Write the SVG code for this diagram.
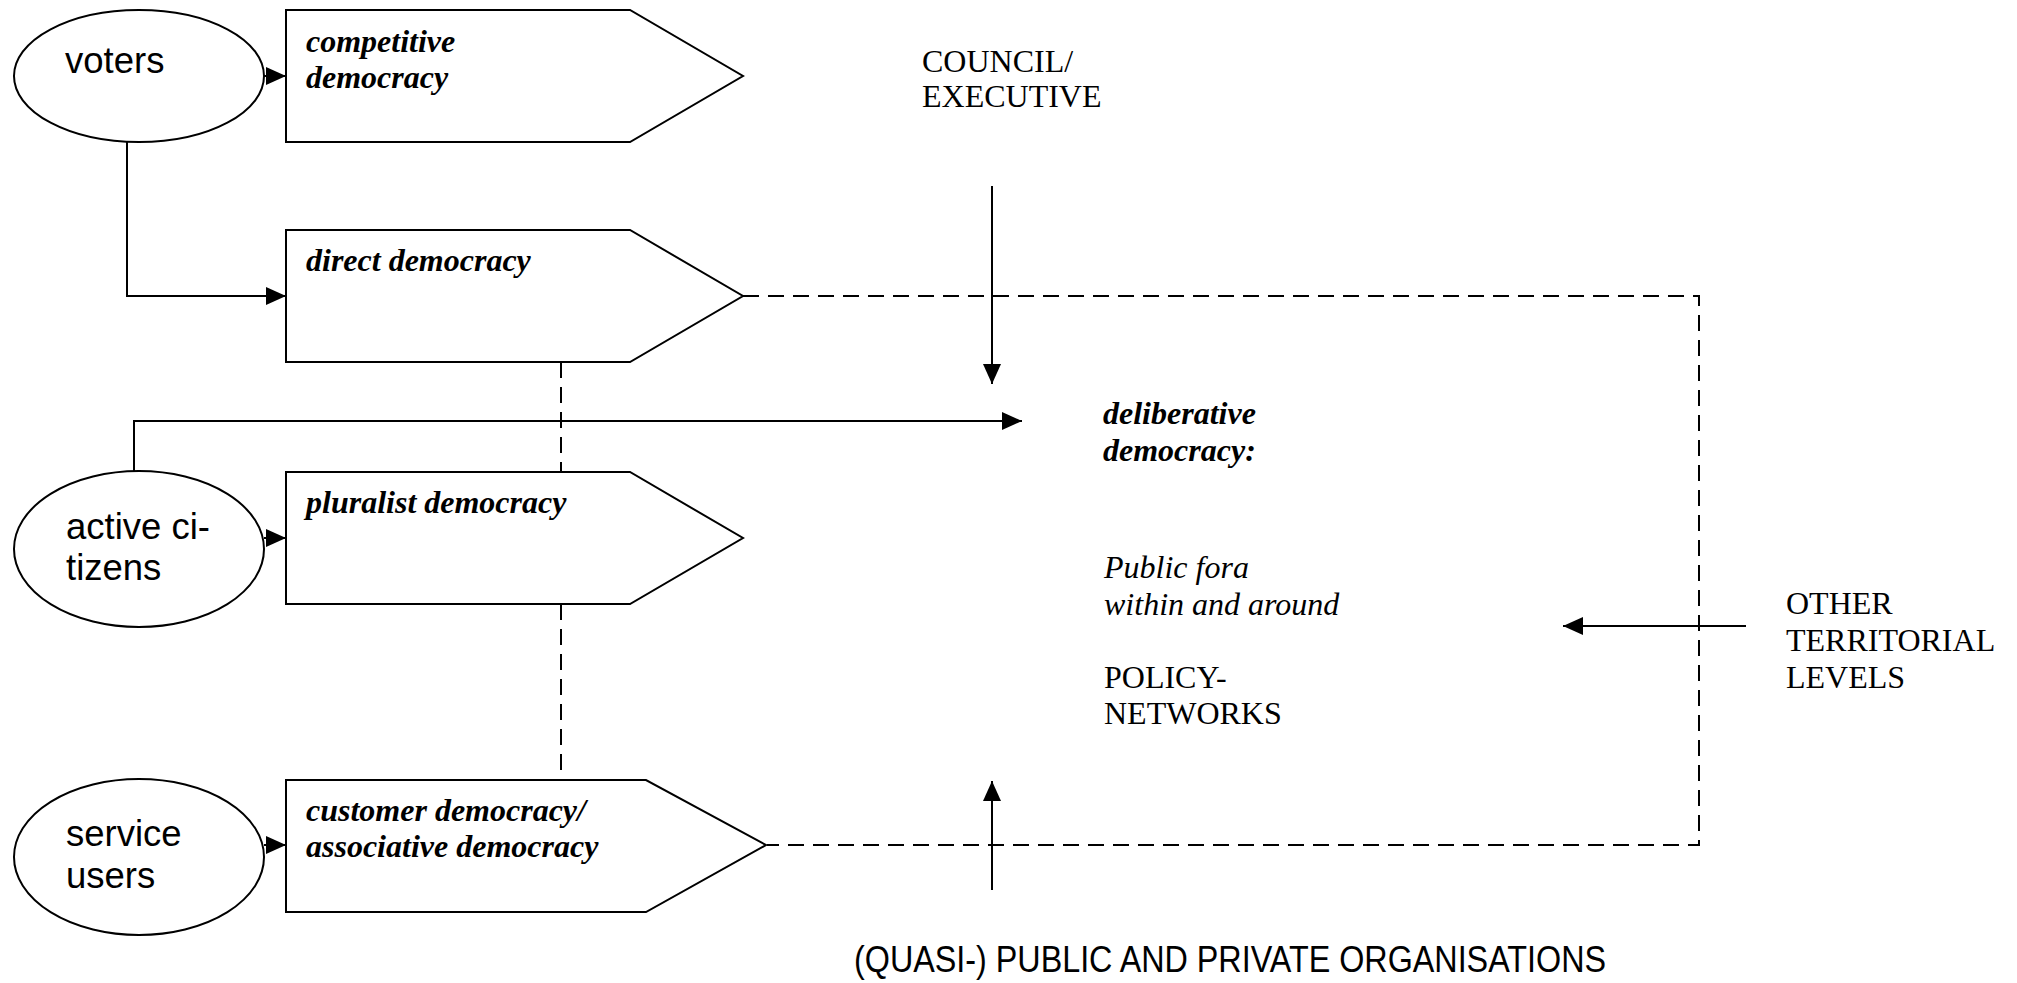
<svg xmlns="http://www.w3.org/2000/svg" width="2017" height="983" viewBox="0 0 2017 983">
<style>
.shape{fill:#fff;stroke:#000;stroke-width:2}
.line{fill:none;stroke:#000;stroke-width:2}
.dash{fill:none;stroke:#000;stroke-width:2;stroke-dasharray:16 9}
.sans{font-family:"Liberation Sans",Arial,sans-serif;font-size:36.5px;fill:#000}
.bi{font-family:"Liberation Serif","Times New Roman",serif;font-size:32px;font-style:italic;font-weight:bold;fill:#000}
.it{font-family:"Liberation Serif","Times New Roman",serif;font-size:32px;font-style:italic;fill:#000}
.rm{font-family:"Liberation Serif","Times New Roman",serif;font-size:32px;fill:#000}
.caps{font-family:"Liberation Sans",Arial,sans-serif;font-size:36px;fill:#000}
</style>
<defs>
<marker id="ah" viewBox="0 0 20 18" refX="20" refY="9" markerWidth="20" markerHeight="18" markerUnits="userSpaceOnUse" orient="auto">
<path d="M0,0 L20,9 L0,18 Z" fill="#000"/>
</marker>
</defs>
<rect width="2017" height="983" fill="#fff"/>
<g id="connectors">
<path class="dash" d="M743,296 H1699 V845 H767"/>
<path class="dash" d="M561,362 V472"/>
<path class="dash" d="M561,604 V780"/>
<path class="line" d="M264,76 H286" marker-end="url(#ah)"/>
<path class="line" d="M127,142 V296 H286" marker-end="url(#ah)"/>
<path class="line" d="M264,538 H286" marker-end="url(#ah)"/>
<path class="line" d="M134,471 V421 H1022" marker-end="url(#ah)"/>
<path class="line" d="M264,845 H286" marker-end="url(#ah)"/>
<path class="line" d="M992,186 V384" marker-end="url(#ah)"/>
<path class="line" d="M992,890 V781" marker-end="url(#ah)"/>
<path class="line" d="M1746,626 H1563" marker-end="url(#ah)"/>
</g>
<g id="voters">
<ellipse class="shape" cx="139" cy="76" rx="125" ry="66"/>
<text class="sans" x="65" y="73">voters</text>
</g>
<g id="active-citizens">
<ellipse class="shape" cx="139" cy="549" rx="125" ry="78"/>
<text class="sans" x="66" y="539">active ci-</text>
<text class="sans" x="66" y="580">tizens</text>
</g>
<g id="service-users">
<ellipse class="shape" cx="139" cy="857" rx="125" ry="78"/>
<text class="sans" x="66" y="846">service</text>
<text class="sans" x="66" y="888">users</text>
</g>
<g id="competitive-democracy">
<path class="shape" d="M286,10 H630 L743,76 L630,142 H286 Z"/>
<text class="bi" x="306" y="52">competitive</text>
<text class="bi" x="306" y="88">democracy</text>
</g>
<g id="direct-democracy">
<path class="shape" d="M286,230 H630 L743,296 L630,362 H286 Z"/>
<text class="bi" x="306" y="271">direct democracy</text>
</g>
<g id="pluralist-democracy">
<path class="shape" d="M286,472 H630 L743,538 L630,604 H286 Z"/>
<text class="bi" x="306" y="513">pluralist democracy</text>
</g>
<g id="customer-democracy">
<path class="shape" d="M286,780 H646 L766,845 L646,912 H286 Z"/>
<text class="bi" x="306" y="821">customer democracy/</text>
<text class="bi" x="306" y="857">associative democracy</text>
</g>
<g id="council-executive">
<text class="rm" x="922" y="72">COUNCIL/</text>
<text class="rm" x="922" y="107">EXECUTIVE</text>
</g>
<g id="deliberative-democracy">
<text class="bi" x="1103" y="424">deliberative</text>
<text class="bi" x="1103" y="461">democracy:</text>
<text class="it" x="1104" y="578">Public fora</text>
<text class="it" x="1104" y="615">within and around</text>
<text class="rm" x="1104" y="688">POLICY-</text>
<text class="rm" x="1104" y="724">NETWORKS</text>
</g>
<g id="other-territorial-levels">
<text class="rm" x="1786" y="614">OTHER</text>
<text class="rm" x="1786" y="651">TERRITORIAL</text>
<text class="rm" x="1786" y="688">LEVELS</text>
</g>
<g id="organisations">
<text class="caps" x="854" y="972" textLength="752" lengthAdjust="spacingAndGlyphs">(QUASI-) PUBLIC AND PRIVATE ORGANISATIONS</text>
</g>
</svg>
